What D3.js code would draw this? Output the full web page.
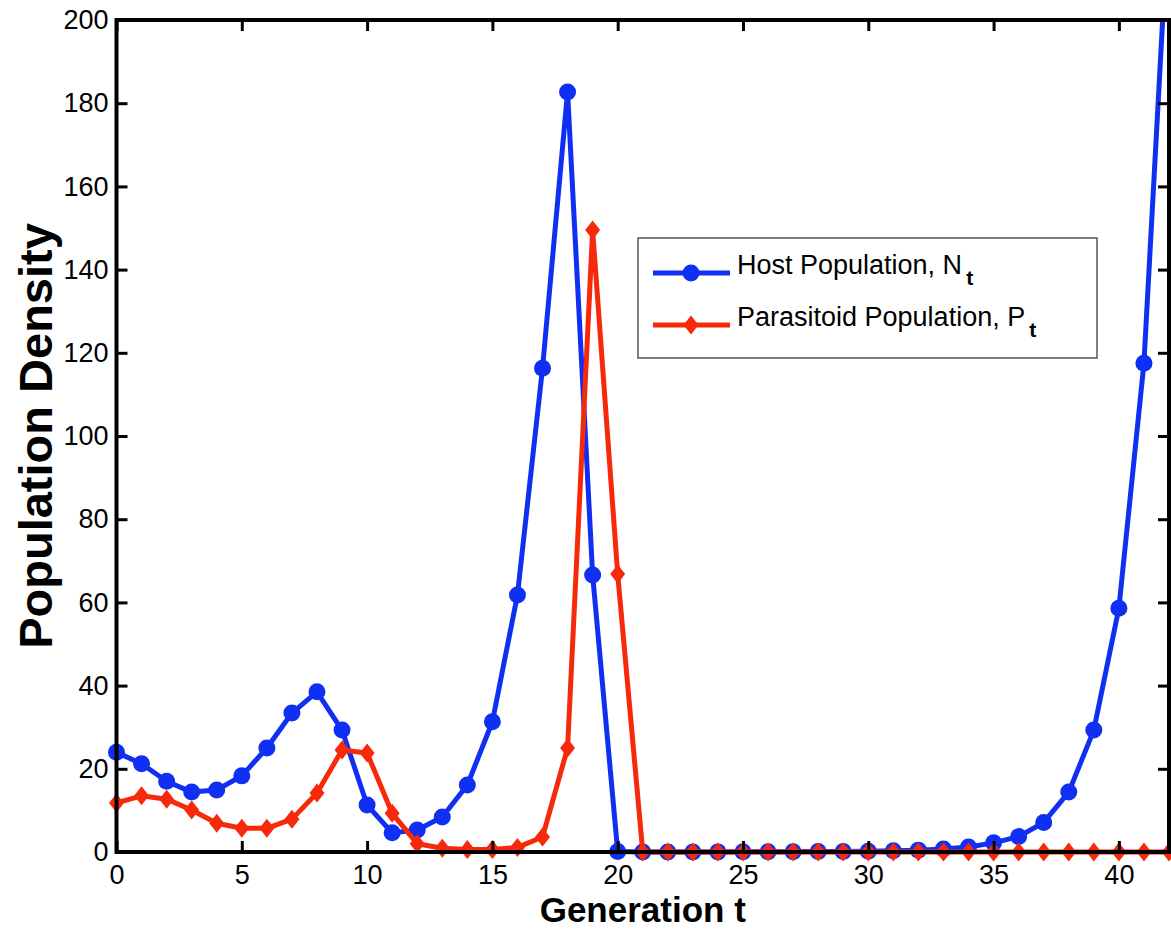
<!DOCTYPE html>
<html>
<head>
<meta charset="utf-8">
<script src="https://cdn.jsdelivr.net/npm/d3@7"></script>
<style>
  html, body { margin: 0; padding: 0; background: #fff; }
  svg { display: block; font-family: "Liberation Sans", Arial, Helvetica, sans-serif; }
</style>
</head>
<body>
<svg id="chart" width="1171" height="930"></svg>
<script>
// Generations t = 0 .. 42
const generations = d3.range(0, 43);

// Host population N_t
const hostValues = [
  24.0, 21.2, 17.0, 14.4, 14.9, 18.3, 25.0, 33.4, 38.5, 29.3,
  11.3, 4.6, 5.3, 8.4, 16.1, 31.3, 61.8, 116.3, 182.7, 66.6,
  0.1, 0.02, 0.02, 0.02, 0.03, 0.04, 0.05, 0.07, 0.1, 0.14,
  0.2, 0.3, 0.45, 0.7, 1.2, 2.2, 3.7, 7.1, 14.4, 29.3,
  58.6, 117.5, 228
];

// Parasitoid population P_t
const parasitoidValues = [
  11.8, 13.5, 12.7, 10.1, 6.9, 5.7, 5.7, 7.9, 14.2, 24.5,
  23.8, 9.3, 2.0, 0.9, 0.6, 0.6, 1.1, 3.6, 25.0, 149.5,
  66.8, 0, 0, 0, 0, 0, 0, 0, 0, 0,
  0, 0, 0, 0, 0, 0, 0, 0, 0, 0,
  0, 0, 0
];

const xTicks = [0, 5, 10, 15, 20, 25, 30, 35, 40];
const yTicks = [0, 20, 40, 60, 80, 100, 120, 140, 160, 180, 200];

const seriesNames = ["Host Population, N", "Parasitoid Population, P"];
const seriesSub = ["t", "t"];
const xLabel = "Generation t";
const yLabel = "Population Density";

const hostColor = "#0f30f2";
const paraColor = "#f62a0a";

const margin = { left: 116.5, top: 20, right: 2, bottom: 78 };
const W = 1171, H = 930;
const plotW = W - margin.left - margin.right;
const plotH = H - margin.top - margin.bottom;

const svg = d3.select("#chart");
const g = svg.append("g").attr("transform", `translate(${margin.left},${margin.top})`);

const x = d3.scaleLinear().domain([0, 42]).range([0, plotW]);
const y = d3.scaleLinear().domain([0, 200]).range([plotH, 0]);

// clip everything above the top of the axes
svg.append("defs").append("clipPath").attr("id", "clip")
  .append("rect").attr("x", -margin.left).attr("y", 0)
  .attr("width", W).attr("height", H);

const data = generations.map((t, i) => ({ t, host: hostValues[i], para: parasitoidValues[i] }));

const plot = g.append("g").attr("clip-path", "url(#clip)");

const lineWidth = 5;
const hostLine = d3.line().x(d => x(d.t)).y(d => y(d.host));
const paraLine = d3.line().x(d => x(d.t)).y(d => y(d.para));

function diamond(cx, cy) {
  const hw = 7.5, hh = 9.5;
  return `M${cx},${cy - hh}L${cx + hw},${cy}L${cx},${cy + hh}L${cx - hw},${cy}Z`;
}

// host series
plot.append("path").datum(data)
  .attr("d", hostLine).attr("fill", "none")
  .attr("stroke", hostColor).attr("stroke-width", lineWidth)
  .attr("stroke-linejoin", "round");
plot.append("g").selectAll("circle").data(data).join("circle")
  .attr("cx", d => x(d.t)).attr("cy", d => y(d.host)).attr("r", 8.5)
  .attr("fill", hostColor);

// parasitoid series
plot.append("path").datum(data)
  .attr("d", paraLine).attr("fill", "none")
  .attr("stroke", paraColor).attr("stroke-width", lineWidth)
  .attr("stroke-linejoin", "round");
plot.append("g").selectAll("path").data(data).join("path")
  .attr("d", d => diamond(x(d.t), y(d.para)))
  .attr("fill", paraColor);

// axes
const tickLen = 11;
const fontSize = 27;

const axB = g.append("g").attr("transform", `translate(0,${plotH})`)
  .call(d3.axisBottom(x).tickValues(xTicks).tickSizeInner(-tickLen).tickSizeOuter(0).tickPadding(13));
const axL = g.append("g")
  .call(d3.axisLeft(y).tickValues(yTicks).tickSizeInner(-tickLen).tickSizeOuter(0).tickPadding(8));
const axT = g.append("g")
  .call(d3.axisTop(x).tickValues(xTicks).tickSizeInner(-tickLen).tickSizeOuter(0).tickFormat(""));
const axR = g.append("g").attr("transform", `translate(${plotW},0)`)
  .call(d3.axisRight(y).tickValues(yTicks).tickSizeInner(-tickLen).tickSizeOuter(0).tickFormat(""));

[axB, axL, axT, axR].forEach(a => {
  a.select(".domain").remove();
  a.selectAll(".tick line").attr("stroke", "#000").attr("stroke-width", 3);
  a.selectAll("text").attr("fill", "#000")
    .style("font-size", fontSize + "px")
    .style("font-family", '"Liberation Sans", Arial, Helvetica, sans-serif');
});

// frame
g.append("rect").attr("x", 0).attr("y", 0).attr("width", plotW).attr("height", plotH)
  .attr("fill", "none").attr("stroke", "#000").attr("stroke-width", 4);

// axis labels
svg.append("text")
  .attr("x", margin.left + plotW / 2).attr("y", 922)
  .attr("text-anchor", "middle")
  .style("font-size", "35px").style("font-weight", "bold")
  .text(xLabel);

svg.append("text")
  .attr("transform", `translate(52,${margin.top + plotH / 2}) rotate(-90)`)
  .attr("text-anchor", "middle")
  .style("font-size", "47px").style("font-weight", "bold")
  .text(yLabel);

// legend
const lg = svg.append("g").attr("transform", "translate(638,238)");
lg.append("rect").attr("width", 459).attr("height", 120)
  .attr("fill", "#fff").attr("stroke", "#555").attr("stroke-width", 1.5);

const legendRows = [
  { name: seriesNames[0], sub: seriesSub[0], color: hostColor, marker: "circle", yy: 35 },
  { name: seriesNames[1], sub: seriesSub[1], color: paraColor, marker: "diamond", yy: 87 }
];
legendRows.forEach(r => {
  lg.append("line").attr("x1", 15).attr("x2", 92).attr("y1", r.yy).attr("y2", r.yy)
    .attr("stroke", r.color).attr("stroke-width", lineWidth);
  if (r.marker === "circle") {
    lg.append("circle").attr("cx", 53).attr("cy", r.yy).attr("r", 8.5).attr("fill", r.color);
  } else {
    lg.append("path").attr("d", diamond(53, r.yy)).attr("fill", r.color);
  }
  const t = lg.append("text").attr("x", 99).attr("y", r.yy + 1)
    .style("font-size", "27px");
  t.append("tspan").text(r.name);
  t.append("tspan").attr("dx", 4).attr("dy", 11)
    .style("font-size", "21px").style("font-weight", "bold").text(r.sub);
});
</script>
</body>
</html>
